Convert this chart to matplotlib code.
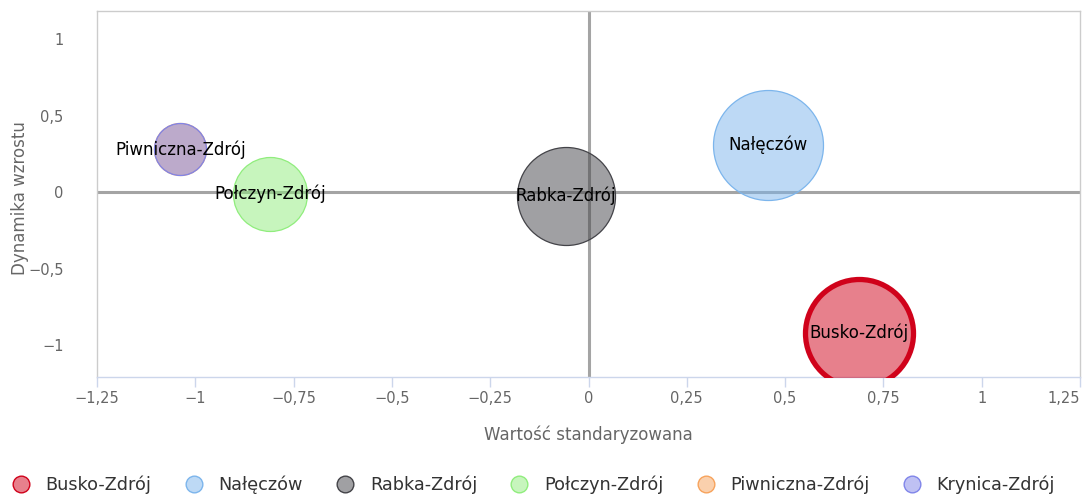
import matplotlib
matplotlib.use("Agg")
import matplotlib.pyplot as plt
from matplotlib.lines import Line2D

# dane
names = ["Busko-Zdrój", "Nałęczów", "Rabka-Zdrój", "Połczyn-Zdrój", "Piwniczna-Zdrój", "Krynica-Zdrój"]
x_std = [0.689, 0.457, -0.058, -0.809, -1.038, -1.038]
y_dyn = [-0.92, 0.31, -0.026, -0.013, 0.278, 0.278]
z_size = [54, 55, 49, 37, 26, 26]  # promień bąbla w px

colors = ["#d0021b", "#7cb5ec", "#434348", "#90ed7d", "#f7a35c", "#8085e9"]
edge_widths = [3.8, 0.9, 0.9, 0.9, 0.9, 0.9]

x_ticks = [-1.25, -1, -0.75, -0.5, -0.25, 0, 0.25, 0.5, 0.75, 1, 1.25]
y_ticks = [-1, -0.5, 0, 0.5, 1]

def fmt(v):
    s = ("%g" % v).replace(".", ",")
    return s.replace("-", "\u2212")

def with_alpha(c, a):
    r, g, b = matplotlib.colors.to_rgb(c)
    return (r, g, b, a)

plt.rcParams['font.family'] = ['DejaVu Sans']

W, H = 1083, 497
fig = plt.figure(figsize=(W / 100, H / 100), dpi=100)
ax = fig.add_axes([97 / W, (H - 377) / H, (1080 - 97) / W, (377 - 11) / H])
ax.set_xlim(-1.25, 1.25)
ax.set_ylim(-1.209, 1.183)

# linie zera
ax.axhline(0, color="#a4a4a4", lw=2.2, zorder=1)
ax.axvline(0, color="#a4a4a4", lw=2.2, zorder=1)

px2pt = 72 / 100
for i, n in enumerate(names):
    ax.scatter([x_std[i]], [y_dyn[i]], s=(2 * z_size[i] * px2pt) ** 2,
               facecolor=with_alpha(colors[i], 0.5), edgecolor=colors[i],
               linewidth=edge_widths[i], zorder=3 + i)

# etykiety (Krynica zasłonięta przez Piwniczną)
for i, n in enumerate(names[:5]):
    ax.text(x_std[i], y_dyn[i], n, ha="center", va="center", fontsize=12,
            color="black", zorder=20)

ax.set_xticks(x_ticks)
ax.set_xticklabels([fmt(v) for v in x_ticks])
ax.set_yticks(y_ticks)
ax.set_yticklabels([fmt(v) for v in y_ticks])
ax.tick_params(axis="x", colors="#666666", labelsize=10.5, length=7, width=1,
               direction="out", pad=3)
ax.tick_params(axis="x", color="#ccd6eb")
ax.tick_params(axis="y", colors="#666666", labelsize=10.5, length=0, pad=24)
ax.get_xticklabels()[-1].set_horizontalalignment("right")

for sp in ["left", "top", "right"]:
    ax.spines[sp].set_color("#cccccc")
    ax.spines[sp].set_linewidth(1)
ax.spines["bottom"].set_color("#ccd6eb")
ax.spines["bottom"].set_linewidth(1)

ax.set_xlabel("Wartość standaryzowana", color="#666666", fontsize=12, va="center")
ax.xaxis.set_label_coords(0.5, -0.158)
ax.set_ylabel("Dynamika wzrostu", color="#666666", fontsize=12, va="center")
ax.yaxis.set_label_coords(-0.078, 0.49)

handles = [Line2D([0], [0], marker="o", linestyle="", markersize=12,
                  markerfacecolor=with_alpha(c, 0.5),
                  markeredgecolor=c, markeredgewidth=1)
           for c in colors]
fig.legend(handles, names, loc="center", bbox_to_anchor=(533.5 / W, 12 / H), ncol=6,
           frameon=False, fontsize=12.7, labelcolor="#333333", handletextpad=0.9,
           columnspacing=1.9, handlelength=1.0)

fig.savefig("out.png", dpi=100)
